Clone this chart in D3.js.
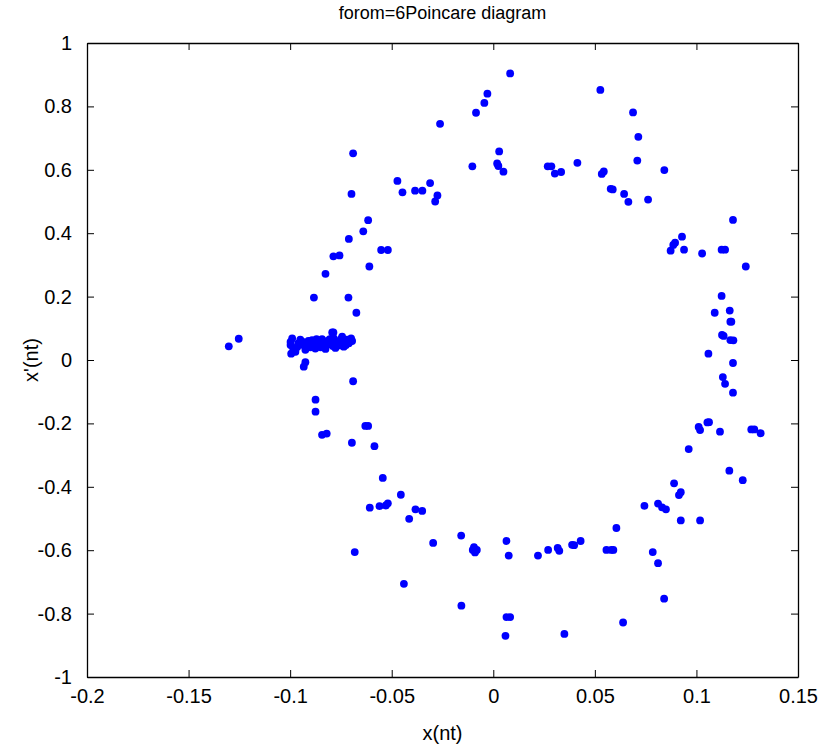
<!DOCTYPE html>
<html>
<head>
<meta charset="utf-8">
<script src="https://cdn.jsdelivr.net/npm/d3@7/dist/d3.min.js"></script>
<style>
  html, body { margin: 0; padding: 0; background: #fff; }
  svg text { font-family: "Liberation Sans", Arial, Helvetica, sans-serif; fill: #000; }
</style>
</head>
<body>
<svg id="chart" width="822" height="746"></svg>
<script>
// ---- data ----
const titleText = "forom=6Poincare diagram";
const xLabelText = "x(nt)";
const yLabelText = "x'(nt)";
const xTicks = [-0.2, -0.15, -0.1, -0.05, 0, 0.05, 0.1, 0.15];
const xTickLabels = ["-0.2", "-0.15", "-0.1", "-0.05", "0", "0.05", "0.1", "0.15"];
const yTicks = [-1, -0.8, -0.6, -0.4, -0.2, 0, 0.2, 0.4, 0.6, 0.8, 1];
const yTickLabels = ["-1", "-0.8", "-0.6", "-0.4", "-0.2", "0", "0.2", "0.4", "0.6", "0.8", "1"];

// upper arc
const pointsTop = [
  [-0.069,0.652],[-0.0472,0.565],[-0.0447,0.529],[-0.0385,0.534],[-0.0349,0.534],[-0.0311,0.558],
  [-0.0698,0.524],[-0.0616,0.441],[-0.064,0.406],[-0.0711,0.382],[-0.0552,0.347],[-0.0519,0.347],
  [-0.0787,0.327],[-0.0757,0.330],[-0.0262,0.745],[-0.0275,0.519],[-0.0286,0.500],[-0.0103,0.611],
  [-0.0085,0.780],[-0.0044,0.811],[-0.0029,0.840],[0.0083,0.904],[0.0029,0.658],[0.0019,0.620],
  [0.0025,0.612],[0.005,0.594],[0.0268,0.611],[0.0286,0.611],[0.0303,0.588],[0.0334,0.593],
  [0.0414,0.622],[0.0527,0.852],[0.0534,0.587],[0.0544,0.595],[0.0578,0.540],[0.0588,0.538],
  [0.0644,0.524],[0.0665,0.499],[0.0688,0.781],[0.0714,0.704],[0.0709,0.629]
];
// right arc
const pointsRight = [
  [0.0762,0.506],[0.0842,0.599],[0.118,0.442],[0.0929,0.389],[0.0895,0.370],[0.0886,0.363],
  [0.0873,0.345],[0.0939,0.348],[0.1028,0.336],[0.1124,0.348],[0.1141,0.348],
  [0.1243,0.295],[0.1124,0.202],[0.109,0.149],[0.1164,0.156],[0.1167,0.121],[0.1172,0.121],
  [0.1126,0.079],[0.1134,0.076],[0.1167,0.063],[0.1182,0.062],[0.1059,0.020],[0.118,-0.0095],
  [0.113,-0.054],[0.1141,-0.075],[0.118,-0.103],[0.1062,-0.196],[0.1054,-0.197],[0.1011,-0.211],
  [0.1018,-0.221],[0.1116,-0.226],[0.127,-0.219],[0.1285,-0.219],[0.1316,-0.231],[0.0962,-0.281],
  [0.1162,-0.349],[0.1228,-0.379],[0.089,-0.389],[0.0923,-0.417],[0.0914,-0.426],[0.0744,-0.460],
  [0.0811,-0.453],[0.0831,-0.465],[0.085,-0.471],[0.0923,-0.506],[0.1018,-0.506],[0.0785,-0.606],
  [0.0811,-0.641],[0.0841,-0.753]
];
// lower arc
const pointsBottom = [
  [-0.0101,-0.599],[-0.009,-0.607],[-0.0081,-0.599],[-0.0095,-0.590],[0.0065,-0.571],[0.0076,-0.617],
  [0.022,-0.617],[0.027,-0.599],[0.0317,-0.593],[0.0325,-0.602],[0.0388,-0.583],[0.0398,-0.584],
  [0.043,-0.571],[0.0557,-0.599],[0.0581,-0.599],[0.0591,-0.599],[0.0606,-0.530],[0.0065,-0.811],
  [0.0083,-0.811],[0.006,-0.870],[0.035,-0.864],[0.0639,-0.828],
  [-0.0843,-0.236],[-0.082,-0.232],[-0.063,-0.208],[-0.0616,-0.208],[-0.0696,-0.261],[-0.0585,-0.272],
  [-0.0544,-0.372],[-0.0455,-0.425],[-0.0608,-0.466],[-0.056,-0.461],[-0.0529,-0.459],[-0.0519,-0.452],
  [-0.0383,-0.471],[-0.035,-0.476],[-0.0414,-0.501],[-0.0296,-0.577],[-0.0158,-0.554],[-0.0682,-0.606],
  [-0.044,-0.706],[-0.0157,-0.775]
];
// left arc
const pointsLeft = [
  [-0.061,0.295],[-0.0826,0.272],[-0.0883,0.197],[-0.0713,0.197],[-0.0674,0.149],[-0.1253,0.067],
  [-0.1302,0.043],[-0.0787,0.087],[-0.0995,0.020],[-0.0925,-0.007],[-0.0933,-0.021],[-0.069,-0.067],
  [-0.0875,-0.125],[-0.0875,-0.163]
];
// dense cluster near x = -0.085, y = 0.05
const pointsCluster = [
  [-0.0990,0.068],[-0.0998,0.057],[-0.0998,0.047],[-0.0985,0.036],[-0.0974,0.026],[-0.0960,0.052],
  [-0.0940,0.058],[-0.0930,0.045],[-0.0925,0.032],[-0.0910,0.060],[-0.0892,0.063],[-0.0885,0.050],
  [-0.0876,0.036],[-0.0860,0.055],[-0.0843,0.066],[-0.0835,0.045],[-0.0826,0.035],[-0.0815,0.060],
  [-0.0800,0.050],[-0.0793,0.087],[-0.0785,0.068],[-0.0777,0.038],[-0.0770,0.057],[-0.0760,0.046],
  [-0.0750,0.066],[-0.0744,0.074],[-0.0736,0.042],[-0.0730,0.058],[-0.0720,0.064],[-0.0711,0.053],
  [-0.0700,0.068],[-0.0695,0.060],[-0.0840,0.052],[-0.0900,0.040],
  [-0.0950,0.064],[-0.0965,0.041],[-0.0915,0.051],[-0.0870,0.066],[-0.0850,0.040],[-0.0805,0.066],
  [-0.0790,0.044],[-0.0755,0.055],[-0.0725,0.047],[-0.0705,0.062],[-0.0820,0.054],[-0.0780,0.061]
];

// ---- drawing ----
const svg = d3.select("#chart");
const plot = { left: 87, right: 798, top: 43, bottom: 677 };
const x = d3.scaleLinear().domain([-0.2, 0.15]).range([plot.left, plot.right]);
const y = d3.scaleLinear().domain([-1, 1]).range([plot.bottom, plot.top]);
const tickLen = 7;
const labelSize = 20;

const allPoints = [].concat(pointsTop, pointsRight, pointsBottom, pointsLeft, pointsCluster);

svg.append("g").selectAll("circle").data(allPoints).enter().append("circle")
  .attr("cx", d => x(d[0])).attr("cy", d => y(d[1])).attr("r", 3.9)
  .attr("fill", "#0000ff");

// axes (MATLAB-style box with inward ticks on all sides)
const xBottom = d3.axisBottom(x).tickValues(xTicks).tickSizeInner(-tickLen).tickSizeOuter(0)
  .tickPadding(tickLen + 5).tickFormat((d, i) => xTickLabels[i]);
const xTop = d3.axisTop(x).tickValues(xTicks).tickSizeInner(-tickLen).tickSizeOuter(0).tickFormat("");
const yLeft = d3.axisLeft(y).tickValues(yTicks).tickSizeInner(-tickLen).tickSizeOuter(0)
  .tickPadding(tickLen + 8).tickFormat((d, i) => yTickLabels[i]);
const yRight = d3.axisRight(y).tickValues(yTicks).tickSizeInner(-tickLen).tickSizeOuter(0).tickFormat("");

function style(g) {
  g.select(".domain").attr("stroke", "#000").attr("stroke-width", 1.3);
  g.selectAll(".tick line").attr("stroke", "#000").attr("stroke-width", 1);
  g.selectAll(".tick text").attr("font-size", labelSize).attr("fill", "#000")
    .attr("font-family", '"Liberation Sans", Arial, sans-serif');
}
svg.append("g").attr("transform", `translate(0,${plot.bottom})`).call(xBottom).call(style);
svg.append("g").attr("transform", `translate(0,${plot.top})`).call(xTop).call(style);
svg.append("g").attr("transform", `translate(${plot.left},0)`).call(yLeft).call(style);
svg.append("g").attr("transform", `translate(${plot.right},0)`).call(yRight).call(style);

// title & labels
svg.append("text").attr("x", (plot.left + plot.right) / 2).attr("y", 19)
  .attr("text-anchor", "middle").attr("font-size", 18).text(titleText);
svg.append("text").attr("x", (plot.left + plot.right) / 2).attr("y", 740)
  .attr("text-anchor", "middle").attr("font-size", 20).text(xLabelText);
svg.append("text").attr("transform", `translate(38,${(plot.top + plot.bottom) / 2}) rotate(-90)`)
  .attr("text-anchor", "middle").attr("font-size", 20).text(yLabelText);
</script>
</body>
</html>
